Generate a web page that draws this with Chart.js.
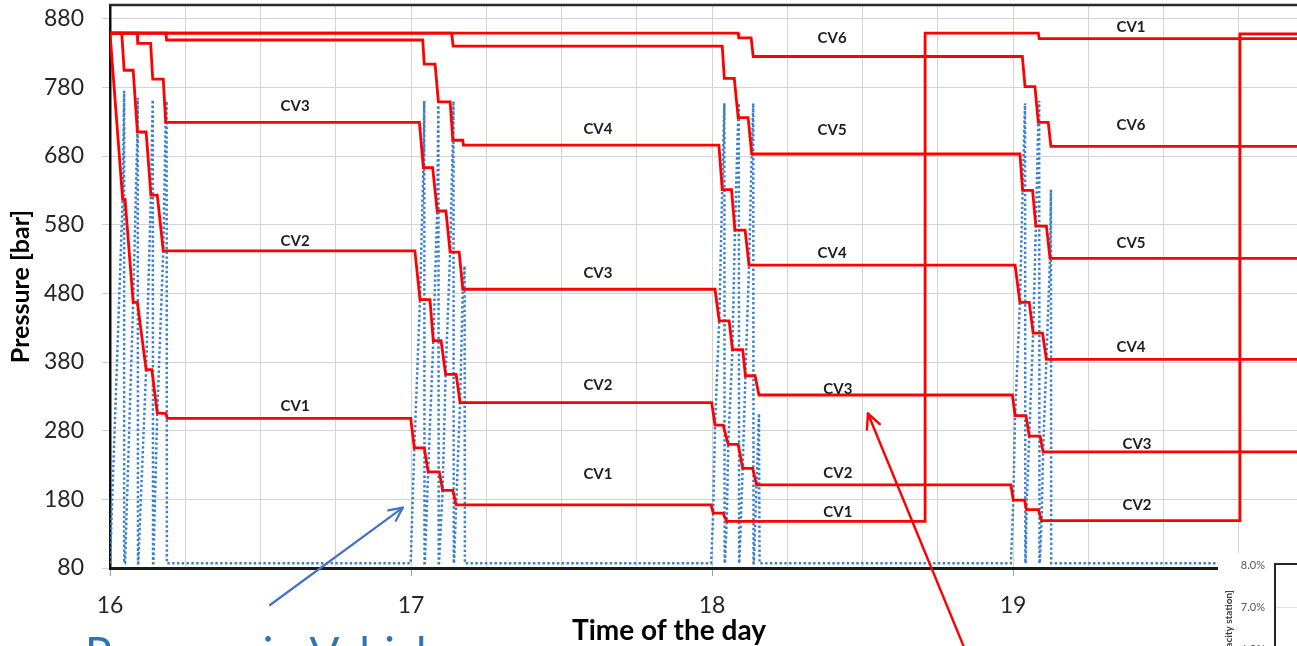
<!DOCTYPE html>
<html><head><meta charset="utf-8">
<script src="https://cdn.jsdelivr.net/npm/chart.js@4.4.1/dist/chart.umd.min.js"></script>
<style>html,body{margin:0;padding:0;background:#fff;overflow:hidden}canvas{display:block}</style>
</head><body>
<canvas id="c" width="1297" height="646"></canvas>
<script>
// ---------- data (time of day in hours, pressure in bar) ----------
const cv1T = [16.000,16.042,16.050,16.077,16.091,16.120,16.139,16.157,16.186,16.190,16.999,17.011,17.044,17.057,17.094,17.105,17.139,17.150,17.997,18.004,18.037,18.049,18.708,18.708,19.084,19.087,19.95];
const cv1P = [859,617,617,467,467,369,369,306,305,298,298,255,255,220,220,193,193,172,172,160,160,148,148,859,859,851,851];

const cv2T = [16.000,16.039,16.047,16.077,16.091,16.120,16.136,16.157,16.177,17.013,17.030,17.063,17.074,17.100,17.115,17.150,17.163,17.999,18.010,18.037,18.054,18.087,18.102,18.135,18.148,18.993,19.001,19.038,19.045,19.084,19.095,19.754,19.754,19.95];
const cv2P = [859,859,805,805,715,715,623,623,542,542,471,471,411,411,362,362,321,321,288,288,260,260,225,225,201,201,179,179,165,165,149,149,858,858];

const cv3T = [16.000,16.091,16.092,16.135,16.142,16.177,16.185,17.028,17.041,17.072,17.087,17.116,17.130,17.160,17.172,18.010,18.024,18.057,18.068,18.102,18.111,18.143,18.156,18.998,19.007,19.043,19.054,19.090,19.100,19.95];
const cv3P = [859,859,844,844,792,792,729,729,663,663,600,600,540,540,486,486,440,440,398,398,360,360,332,332,302,302,272,272,249,249];

const cv4T = [16.000,16.186,16.188,17.039,17.044,17.080,17.091,17.130,17.139,17.172,17.174,18.023,18.034,18.065,18.076,18.110,18.123,19.007,19.023,19.054,19.067,19.098,19.111,19.95];
const cv4P = [859,859,849,849,814,814,759,759,703,703,696,696,631,631,572,572,521,521,467,467,422,422,384,384];

const cv5T = [16.000,17.135,17.140,18.034,18.041,18.074,18.087,18.120,18.132,19.023,19.032,19.065,19.076,19.111,19.123,19.95];
const cv5P = [859,859,840,840,793,793,736,736,683,683,630,630,578,578,531,531];

const cv6T = [16.000,18.087,18.089,18.130,18.137,19.031,19.040,19.073,19.084,19.117,19.126,19.95];
const cv6P = [859,859,852,852,825,825,781,781,729,729,694,694];

// pressure in the vehicle being filled
const vehT = [
 16.000,16.042,16.047,16.047,
 16.050,16.077,16.091,16.092,16.093,
 16.094,16.120,16.136,16.142,16.143,
 16.144,16.157,16.177,16.185,16.188,16.189,
 16.999,17.011,17.030,17.041,17.044,17.045,
 17.046,17.057,17.074,17.087,17.091,17.092,
 17.093,17.105,17.115,17.130,17.139,17.141,17.142,
 17.143,17.150,17.163,17.172,17.178,17.179,
 17.997,18.004,18.010,18.024,18.034,18.041,18.042,
 18.043,18.049,18.054,18.068,18.076,18.087,18.089,18.090,
 18.091,18.102,18.111,18.123,18.132,18.137,18.138,
 18.139,18.148,18.156,18.158,
 18.993,19.001,19.007,19.023,19.032,19.040,19.041,
 19.042,19.045,19.054,19.067,19.076,19.084,19.087,19.088,
 19.089,19.095,19.100,19.111,19.123,19.126,19.127,
 19.95];
const vehP = [
 87,617,775,87,
 87,467,715,765,87,
 87,369,623,762,87,
 87,306,542,729,760,87,
 87,255,471,663,760,87,
 87,220,411,600,754,87,
 87,193,362,540,703,760,87,
 87,172,321,486,520,87,
 87,160,288,440,631,757,87,
 87,148,260,398,572,736,757,87,
 87,225,360,521,683,757,87,
 87,201,305,87,
 87,179,302,467,630,757,87,
 87,165,272,422,578,729,760,87,
 87,149,249,384,531,631,87,
 87];

// ---------- ticks ----------
const xGridValues = [16,16.25,16.5,16.75,17,17.25,17.5,17.75,18,18.25,18.5,18.75,19,19.25,19.5,19.75];
const xTickLabels = ['16','17','18','19'];
const yTickValues = [80,180,280,380,480,580,680,780,880];

// ---------- in-plot labels (text, time, pressure) ----------
const cvLabelText = ['CV3','CV2','CV1','CV4','CV3','CV2','CV1','CV6','CV5','CV4','CV3','CV2','CV1','CV1','CV6','CV5','CV4','CV3','CV2'];
const cvLabelT    = [16.615,16.615,16.615,17.621,17.621,17.621,17.621,18.399,18.399,18.399,18.418,18.418,18.418,19.392,19.392,19.392,19.392,19.412,19.412];
const cvLabelP    = [753,556,316,719,509,346,216,852,718,539,341,218,161,868,725,553,402,260,172];

const FONT = 'Lato, "Open Sans", "DejaVu Sans", sans-serif';
const pts = (T,P) => T.map((t,i)=>({x:t,y:P[i]}));
const redStyle = {borderColor:'#ff0000', backgroundColor:'#ff0000', borderWidth:2.8, pointRadius:0, tension:0, fill:false};

function arrow(ctx,x0,y0,x1,y1,color,w,head){
  ctx.save();
  ctx.strokeStyle=color; ctx.lineWidth=w; ctx.lineCap='round'; ctx.lineJoin='round';
  ctx.beginPath(); ctx.moveTo(x0,y0); ctx.lineTo(x1,y1); ctx.stroke();
  const a=Math.atan2(y1-y0,x1-x0), s=0.45;
  ctx.beginPath();
  ctx.moveTo(x1-head*Math.cos(a-s), y1-head*Math.sin(a-s));
  ctx.lineTo(x1,y1);
  ctx.lineTo(x1-head*Math.cos(a+s), y1-head*Math.sin(a+s));
  ctx.stroke();
  ctx.restore();
}

const overlay = {
  id:'overlay',
  beforeDraw(chart){
    const c=chart.ctx; c.save(); c.fillStyle='#fff'; c.fillRect(0,0,chart.width,chart.height); c.restore();
  },
  afterDatasetsDraw(chart){
    const {ctx, scales:{x,y}} = chart;
    ctx.save();
    ctx.font = 'bold 15px '+FONT; ctx.fillStyle='#1e1e1e';
    ctx.textAlign='center'; ctx.textBaseline='middle';
    cvLabelText.forEach((t,i)=>ctx.fillText(t, x.getPixelForValue(cvLabelT[i]), y.getPixelForValue(cvLabelP[i])));
    ctx.restore();
  },
  afterDraw(chart){
    const {ctx, chartArea:a, scales:{x,y}} = chart;
    ctx.save();
    // top frame line
    ctx.strokeStyle='#2a2a2a'; ctx.lineWidth=2.5;
    ctx.beginPath(); ctx.moveTo(a.left-1, a.top); ctx.lineTo(a.right, a.top); ctx.stroke();
    // x axis title
    ctx.font='bold 28px '+FONT; ctx.fillStyle='#000'; ctx.textAlign='center'; ctx.textBaseline='middle';
    ctx.fillText('Time of the day', 669, 631);
    // annotation arrows
    arrow(ctx, 270, 605, x.getPixelForValue(16.973), y.getPixelForValue(168), '#4472c4', 2.2, 15);
    arrow(ctx, 966, 652, x.getPixelForValue(18.518), y.getPixelForValue(305), '#ff0000', 2.4, 16);
    // annotation text (cut by the bottom edge)
    const txt='Pressure in Vehicle';
    ctx.font='34px '+FONT;
    const w=ctx.measureText(txt).width, fs=34*365/w;
    ctx.font=fs.toFixed(1)+'px '+FONT; ctx.fillStyle='#2e75b6'; ctx.textAlign='left'; ctx.textBaseline='alphabetic';
    ctx.fillText(txt, 85, 637+fs*0.72);
    // inset of the neighbouring chart (bottom-right corner)
    ctx.fillStyle='#fff'; ctx.fillRect(1218,553,80,94);
    ctx.strokeStyle='#e3e3e3'; ctx.lineWidth=1;
    ctx.beginPath(); ctx.moveTo(1276,607.5); ctx.lineTo(1297,607.5); ctx.stroke();
    ctx.strokeStyle='#262626'; ctx.lineWidth=2;
    ctx.beginPath(); ctx.moveTo(1275,646); ctx.lineTo(1275,564); ctx.lineTo(1297,564); ctx.stroke();
    ctx.font='11px '+FONT; ctx.fillStyle='#595959'; ctx.textAlign='right'; ctx.textBaseline='middle';
    ctx.fillText('8.0%',1265,565); ctx.fillText('7.0%',1265,607); ctx.fillText('6.0%',1265,649);
    ctx.save(); ctx.translate(1229,590); ctx.rotate(-Math.PI/2);
    ctx.font='bold 10px '+FONT; ctx.fillStyle='#404040'; ctx.textAlign='right'; ctx.textBaseline='middle';
    ctx.fillText('[% of capacity station]',0,0);
    ctx.restore();
    ctx.restore();
  }
};

new Chart(document.getElementById('c'), {
  type:'line',
  data:{datasets:[
    {label:'CV1', data:pts(cv1T,cv1P), ...redStyle},
    {label:'CV2', data:pts(cv2T,cv2P), ...redStyle},
    {label:'CV3', data:pts(cv3T,cv3P), ...redStyle},
    {label:'CV4', data:pts(cv4T,cv4P), ...redStyle},
    {label:'CV5', data:pts(cv5T,cv5P), ...redStyle},
    {label:'CV6', data:pts(cv6T,cv6P), ...redStyle},
    {label:'Pressure in Vehicle', data:pts(vehT,vehP), borderColor:'#3a80cc', borderWidth:2.5, borderDash:[2.4,2.4], borderCapStyle:'butt', pointRadius:0, tension:0, fill:false}
  ]},
  options:{
    responsive:false, animation:false, events:[], devicePixelRatio:1,
    layout:{padding:{top:5,right:0,left:0,bottom:0}},
    plugins:{legend:{display:false}, tooltip:{enabled:false}},
    scales:{
      x:{type:'linear', min:16, max:16+1187/301,
        afterBuildTicks:s=>{s.ticks=xGridValues.map(v=>({value:v}));},
        afterFit:s=>{s.height=78; s.paddingLeft=0; s.paddingRight=0;},
        ticks:{autoSkip:false, maxRotation:0, padding:16, color:'#262626', font:{family:FONT,size:23},
          callback:v=>{const i=xTickLabels.indexOf(String(v)); return i>=0?xTickLabels[i]:'';}},
        grid:{color:'#d4d4d4', lineWidth:1, tickLength:8,
          tickColor:c=>(c.tick && Number.isInteger(c.tick.value))?'#a0a0a0':'rgba(0,0,0,0)'},
        border:{display:true,color:'#1a1a1a',width:3}
      },
      y:{type:'linear', min:80, max:900,
        afterBuildTicks:s=>{s.ticks=yTickValues.map(v=>({value:v}));},
        afterFit:s=>{s.width=110; s.paddingTop=0; s.paddingBottom=0;},
        ticks:{padding:18, color:'#262626', font:{family:FONT,size:23}},
        grid:{color:'#d4d4d4', lineWidth:1, tickLength:8},
        border:{display:true,color:'#111',width:2.5},
        title:{display:true, text:'Pressure [bar]', color:'#000', font:{family:FONT,size:25,weight:'bold'}, padding:{top:6,bottom:0}}
      }
    }
  },
  plugins:[overlay]
});
</script>
</body></html>
